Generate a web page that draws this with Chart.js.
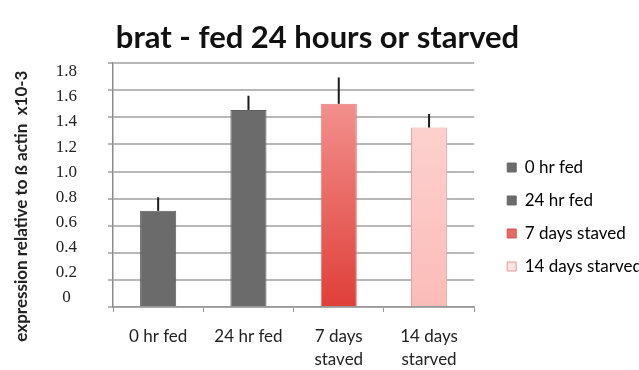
<!DOCTYPE html>
<html>
<head>
<meta charset="utf-8">
<script src="https://cdn.jsdelivr.net/npm/chart.js@4.4.1/dist/chart.umd.min.js"></script>
<style>
  html, body { margin: 0; padding: 0; background: #fff; }
  #wrap { width: 639px; height: 370px; }
</style>
</head>
<body>
<div id="wrap"><canvas id="BarChart" width="639" height="370"></canvas></div>
<script>
// brat expression, fed vs starved
const categories = [['0 hr fed'], ['24 hr fed'], ['7 days', 'staved'], ['14 days', 'starved']];
const seriesNames = ['0 hr fed', '24 hr fed', '7 days staved', '14 days starved'];
const expression = [0.71, 1.455, 1.50, 1.325];
const errorUp = [0.10, 0.105, 0.195, 0.10];
const yTicks = [0, 0.2, 0.4, 0.6, 0.8, 1.0, 1.2, 1.4, 1.6, 1.8];

// bar styling
const fillTop = ['#6b6b6b', '#6b6b6b', '#f6a09d', '#fdd8d6'];
const fillBottom = ['#6b6b6b', '#6b6b6b', '#df3f39', '#fbbcb9'];
const borderColors = ['#5e5e5e', '#5e5e5e', '#e27a76', '#eba3a1'];
const legendFill = ['#6b6b6b', '#6b6b6b', '#e46a66', '#fde4e3'];
const legendStroke = ['#6b6b6b', '#6b6b6b', '#d9534f', '#e69a98'];

var sans = 'Lato, "Open Sans", sans-serif';

var barFill = function (ctx) {
    var i = ctx.dataIndex || 0;
    var area = ctx.chart.chartArea;
    if (!area) return fillTop[i];
    var g = ctx.chart.ctx.createLinearGradient(0, area.top, 0, area.bottom);
    g.addColorStop(0, fillTop[i]);
    g.addColorStop(1, fillBottom[i]);
    return g;
};

// upper error whiskers, drawn from the bar top
var errorBars = {
    id: 'errorBars',
    afterDatasetsDraw: function (chart) {
        var meta = chart.getDatasetMeta(0);
        var y = chart.scales.y;
        var c = chart.ctx;
        c.save();
        c.strokeStyle = '#1c1c1c';
        c.lineWidth = 2;
        meta.data.forEach(function (bar, i) {
            c.beginPath();
            c.moveTo(bar.x, y.getPixelForValue(expression[i]));
            c.lineTo(bar.x, y.getPixelForValue(expression[i] + errorUp[i]));
            c.stroke();
        });
        c.restore();
    }
};

// rotated y title, sits a bit below the plot middle
var yTitle = {
    id: 'yTitle',
    afterDraw: function (chart) {
        var c = chart.ctx;
        var area = chart.chartArea;
        c.save();
        c.translate(22, (area.top + area.bottom) / 2 + 21);
        c.rotate(-Math.PI / 2);
        c.font = 'bold 17px ' + sans;
        c.fillStyle = '#222';
        c.textAlign = 'center';
        c.textBaseline = 'middle';
        c.fillText('expression relative to \u00df actin  x10-3', 0, 0);
        c.restore();
    }
};

// push the legend block a little right of the plot and down
var legendShift = {
    id: 'legendShift',
    afterLayout: function (chart) {
        var lg = chart.legend;
        lg.left += 17;
        lg.right += 17;
        lg.top += 32;
        lg.bottom += 32;
    }
};

var ctx = document.getElementById('BarChart').getContext('2d');
var myChart = new Chart(ctx, {
    type: 'bar',
    data: {
        labels: categories,
        datasets: [{
            label: 'brat',
            data: expression,
            backgroundColor: barFill,
            borderColor: borderColors,
            borderWidth: 1,
            categoryPercentage: 1,
            barPercentage: 0.4
        }]
    },
    options: {
        responsive: false,
        animation: false,
        layout: { padding: { left: 0, right: 4, top: 0, bottom: 0 } },
        plugins: {
            title: {
                display: true,
                text: 'brat - fed 24 hours or starved',
                color: '#111',
                font: { family: sans, size: 31, weight: 'bold', lineHeight: 1.2 },
                padding: { top: 19, bottom: 7 }
            },
            legend: {
                position: 'right',
                maxWidth: 200,
                labels: {
                    boxWidth: 9,
                    boxHeight: 9,
                    padding: 16,
                    color: '#222',
                    font: { family: sans, size: 17 },
                    generateLabels: function () {
                        return seriesNames.map(function (name, i) {
                            return {
                                text: name,
                                fillStyle: legendFill[i],
                                strokeStyle: legendStroke[i],
                                lineWidth: 1,
                                hidden: false,
                                index: i,
                                datasetIndex: 0
                            };
                        });
                    }
                }
            },
            tooltip: { enabled: false }
        },
        scales: {
            x: {
                grid: {
                    offset: true,
                    drawOnChartArea: false,
                    drawTicks: true,
                    tickLength: 5,
                    color: '#999'
                },
                border: { color: '#999', width: 1.5 },
                ticks: {
                    color: '#222',
                    padding: 13,
                    font: { family: sans, size: 17, lineHeight: 1.35 }
                },
                afterFit: function (scale) { scale.height = 63; }
            },
            y: {
                min: 0,
                max: 1.8,
                weight: 0,
                ticks: { display: false, stepSize: 0.2 },
                grid: { color: '#b8b8b8', lineWidth: 2, tickLength: 5 },
                border: { color: '#8c8c8c', width: 1.5 },
                afterFit: function (scale) { scale.width = 6; }
            },
            // tick labels sit on their own axis, slightly inset from the grid
            yLabels: {
                position: 'left',
                weight: 1,
                min: -0.0776,
                max: 1.8696,
                grid: { display: false, drawTicks: false },
                border: { display: false },
                afterBuildTicks: function (scale) {
                    scale.ticks = yTicks.map(function (v) { return { value: v }; });
                },
                ticks: {
                    crossAlign: 'center',
                    padding: 30,
                    color: '#222',
                    font: { family: '"Liberation Serif", serif', size: 17 },
                    callback: function (v) { return v === 0 ? '0' : v.toFixed(1); }
                },
                afterFit: function (scale) { scale.width = 107; }
            }
        }
    },
    plugins: [errorBars, yTitle, legendShift]
});
</script>
</body>
</html>
